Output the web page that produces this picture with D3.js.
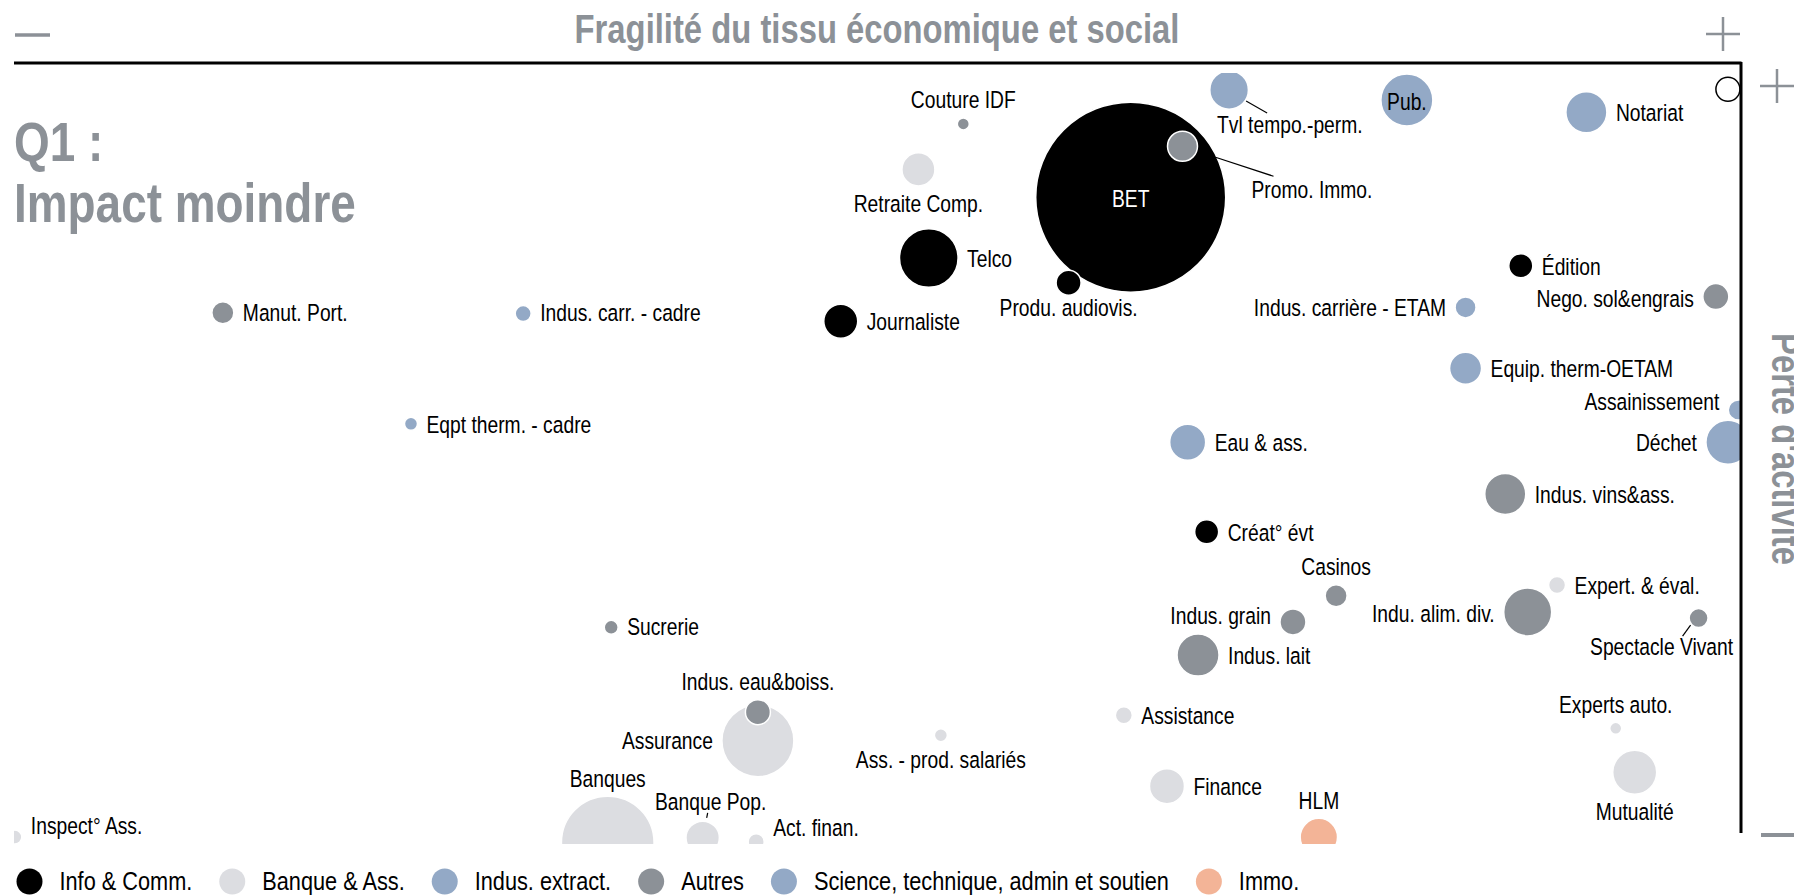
<!DOCTYPE html>
<html lang="fr">
<head>
<meta charset="UTF-8">
<title>Fragilité du tissu économique et social</title>
<script src="https://cdn.jsdelivr.net/npm/d3@7"></script>
<style>
    body { margin: 0; background: #fff; }
    svg { display: block; }
    text { font-family: "Liberation Sans", Arial, sans-serif; }
    .lbl { font-size: 23.5px; fill: #000; }
    .big { font-weight: bold; fill: #8c9197; }
    .leg { font-size: 26.5px; fill: #000; }
</style>
</head>
<body>
<svg width="1794" height="896"></svg>

<script>
    // categories (legend order)
    const categories = ["Info & Comm.", "Banque & Ass.", "Indus. extract.", "Autres",
                        "Science, technique, admin et soutien", "Immo."];

    // one entry per branche
    const sectors = ["Couture IDF", "Retraite Comp.", "BET", "Promo. Immo.", "Tvl tempo.-perm.",
        "Pub.", "Notariat", "Telco", "Produ. audiovis.", "Journaliste",
        "Manut. Port.", "Indus. carr. - cadre", "Eqpt therm. - cadre", "Édition", "Nego. sol&engrais",
        "Indus. carrière - ETAM", "Equip. therm-OETAM", "Assainissement", "Déchet", "Eau & ass.",
        "Indus. vins&ass.", "Créat° évt", "Casinos", "Indus. grain", "Indu. alim. div.",
        "Expert. & éval.", "Spectacle Vivant", "Indus. lait", "Sucrerie", "Indus. eau&boiss.",
        "Assurance", "Ass. - prod. salariés", "Assistance", "Experts auto.", "Mutualité",
        "Finance", "HLM", "Banques", "Banque Pop.", "Act. finan.",
        "Inspect° Ass."];
    const sectorCat = [3, 1, 0, 3, 4,
        4, 4, 0, 0, 0,
        3, 2, 2, 0, 3,
        2, 2, 2, 2, 2,
        3, 0, 3, 3, 3,
        1, 3, 3, 3, 3,
        1, 1, 1, 1, 1,
        1, 5, 1, 1, 1,
        1];
    // x : fragilité du tissu économique et social (0-100)
    const fragilite = [55.0, 52.4, 64.7, 67.7, 70.4,
        80.7, 91.1, 53.0, 61.1, 47.9,
        12.1, 29.5, 23.0, 87.3, 98.6,
        84.1, 84.1, 99.9, 99.3, 68.0,
        86.4, 69.1, 76.6, 74.1, 87.7,
        89.4, 97.6, 68.6, 34.6, 43.1,
        43.1, 53.7, 64.3, 92.8, 93.9,
        66.8, 75.6, 34.4, 39.9, 43.0,
        0.05];
    // y : perte d'activité (0-100)
    const perte = [93.4, 87.5, 83.9, 90.5, 97.8,
        96.5, 94.9, 76.0, 72.8, 67.8,
        68.9, 68.8, 54.5, 75.0, 71.0,
        69.6, 61.7, 56.3, 52.1, 52.1,
        45.4, 40.5, 32.2, 28.8, 30.1,
        33.6, 29.3, 24.5, 28.1, 17.1,
        13.4, 14.1, 16.7, 15.0, 9.3,
        7.5, 0.9, 0.2, 0.8, 0.3,
        0.9];
    // taille de la bulle (BET = 100)
    const poids = [0.40, 3.02, 100, 2.49, 4.13,
        7.49, 4.66, 9.51, 1.73, 3.20,
        1.34, 0.71, 0.47, 1.60, 1.87,
        1.22, 2.84, 1.11, 5.36, 3.59,
        4.66, 1.60, 1.34, 1.87, 6.38,
        0.80, 1.00, 4.89, 0.54, 1.73,
        14.36, 0.47, 0.80, 0.40, 5.36,
        3.39, 3.87, 23.75, 3.09, 0.71,
        0.54];
    // open reference point, top right corner
    const repere = {x: 99.3, y: 97.9, poids: 1.6};

    const catColors = ["#000000", "#dcdde1", "#93a9c6", "#8c9197", "#93a9c6", "#f3b497"];

    // label placement: side, extra dx, extra dy, optional leader line (relative to bubble centre)
    const place = {
        "Couture IDF": ["t"], "Retraite Comp.": ["b"], "BET": ["c"],
        "Promo. Immo.": ["x", 69, 50, [33, 11, 91, 30]],
        "Tvl tempo.-perm.": ["x", -12, 41, [17, 11, 38, 23]],
        "Pub.": ["c"], "Notariat": ["r"], "Telco": ["r"], "Produ. audiovis.": ["b", 0, -5],
        "Journaliste": ["r"], "Manut. Port.": ["r", 0, -1], "Indus. carr. - cadre": ["r", 0, -2],
        "Eqpt therm. - cadre": ["r"], "Édition": ["r"], "Nego. sol&engrais": ["l", 0, 1],
        "Indus. carrière - ETAM": ["l"], "Equip. therm-OETAM": ["r"], "Assainissement": ["l", 0, -9],
        "Déchet": ["l"], "Eau & ass.": ["r"], "Indus. vins&ass.": ["r"], "Créat° évt": ["r"],
        "Casinos": ["t"], "Indus. grain": ["l", 0, -7], "Indu. alim. div.": ["l", 0, 1],
        "Expert. & éval.": ["r"],
        "Spectacle Vivant": ["x", -37, 35, [-8, 7, -16, 18], "middle"],
        "Indus. lait": ["r"], "Sucrerie": ["r", 0, -1], "Indus. eau&boiss.": ["t"],
        "Assurance": ["l", 0, -1], "Ass. - prod. salariés": ["b"], "Assistance": ["r"],
        "Experts auto.": ["t"], "Mutualité": ["b"], "Finance": ["r"], "HLM": ["t"],
        "Banques": ["t"], "Banque Pop.": ["t", 8, -2, [5, -25, 4, -20]],
        "Act. finan.": ["r", 0, -15], "Inspect° Ass.": ["r", 0, -12]
    };

    const svg = d3.select("svg");
    const plot = {left: 14, right: 1740, top: 73, bottom: 844};
    const SX = 0.82;   // condensed look of the original font

    const x = d3.scaleLinear().domain([0, 100]).range([plot.left, plot.right]);
    const y = d3.scaleLinear().domain([0, 100]).range([plot.bottom, plot.top]);
    const r = d3.scaleSqrt().domain([0, 100]).range([0, 95]);

    const data = sectors.map((name, i) => ({
        name: name, cat: sectorCat[i], x: fragilite[i], y: perte[i], poids: poids[i]
    }));

    // text squeezed horizontally
    function narrow(parent, tx, ty, str, cls, extra) {
        return parent.append("text").attr("class", cls)
            .attr("transform", `translate(${tx},${ty}) ${extra || ""} scale(${SX},1)`)
            .text(str);
    }

    svg.append("clipPath").attr("id", "clip")
        .append("rect")
        .attr("x", plot.left).attr("y", plot.top)
        .attr("width", plot.right - plot.left).attr("height", plot.bottom - plot.top);

    // bubbles, biggest first so that the small ones stay on top
    svg.append("g").attr("clip-path", "url(#clip)")
        .selectAll("circle")
        .data(data.slice().sort((a, b) => b.poids - a.poids))
        .join("circle")
            .attr("cx", d => x(d.x))
            .attr("cy", d => y(d.y))
            .attr("r", d => r(d.poids))
            .style("fill", d => catColors[d.cat])
            .style("stroke", "#fff")
            .style("stroke-width", 1.5);

    svg.append("circle")
        .attr("cx", x(repere.x)).attr("cy", y(repere.y)).attr("r", r(repere.poids))
        .style("fill", "#fff").style("stroke", "#000").style("stroke-width", 1.5);

    // labels
    const labels = svg.append("g");
    data.forEach(d => {
        const p = place[d.name] || ["r"];
        const cx = x(d.x), cy = y(d.y), rr = r(d.poids);
        let tx = cx, ty = cy + 2, anchor = "middle";
        if (p[0] === "r") { tx = cx + rr + 9; ty += 7; anchor = "start"; }
        if (p[0] === "l") { tx = cx - rr - 9; ty += 7; anchor = "end"; }
        if (p[0] === "t") { ty -= rr + 11.5; }
        if (p[0] === "b") { ty += rr + 24; }
        if (p[0] === "c") { ty += 8; }
        if (p[0] === "x") { anchor = p[4] || "start"; }
        tx += p[1] || 0;
        ty += p[2] || 0;
        narrow(labels, tx, ty, d.name, "lbl")
            .attr("text-anchor", anchor)
            .style("fill", d.name === "BET" ? "#fff" : "#000");
        if (p[3]) {
            labels.append("line")
                .attr("x1", cx + p[3][0]).attr("y1", cy + p[3][1])
                .attr("x2", cx + p[3][2]).attr("y2", cy + p[3][3])
                .style("stroke", "#000").style("stroke-width", 1.2);
        }
    });

    // frame: top and right edges
    svg.append("line").attr("x1", plot.left).attr("x2", plot.right + 1.5)
        .attr("y1", 63).attr("y2", 63)
        .style("stroke", "#000").style("stroke-width", 3);
    svg.append("line").attr("x1", plot.right + 1).attr("x2", plot.right + 1)
        .attr("y1", 62).attr("y2", 833)
        .style("stroke", "#000").style("stroke-width", 3);

    // + / - markers at the axis ends
    const grey = "#8c9197";
    const hline = (x1, x2, yy, w) => svg.append("line").attr("x1", x1).attr("x2", x2)
        .attr("y1", yy).attr("y2", yy).style("stroke", grey).style("stroke-width", w);
    const plus = (cx, cy) => {
        hline(cx - 17, cx + 17, cy, 2.5);
        svg.append("line").attr("x1", cx).attr("x2", cx).attr("y1", cy - 17).attr("y2", cy + 17)
            .style("stroke", grey).style("stroke-width", 2.5);
    };
    hline(15, 50, 35, 3.5);
    plus(1723, 34);
    plus(1777, 86);
    hline(1761, 1794, 835, 4);

    // titles
    narrow(svg, 877, 43, "Fragilité du tissu économique et social", "big")
        .attr("text-anchor", "middle").style("font-size", "40px");
    narrow(svg, 14, 161, "Q1 :", "big").style("font-size", "56px");
    narrow(svg, 14, 222, "Impact moindre", "big").style("font-size", "56px");
    narrow(svg, 1772, 449, "Perte d'activité", "big", "rotate(90)")
        .attr("text-anchor", "middle").style("font-size", "40px");

    // legend
    const legend = svg.append("g");
    let lx = 29.5;
    categories.forEach((c, i) => {
        legend.append("circle").attr("cx", lx).attr("cy", 881.5).attr("r", 13)
            .style("fill", catColors[i]);
        const t = narrow(legend, lx + 30, 890, c, "leg");
        lx += 30 + t.node().getComputedTextLength() * SX + 40;
    });
</script>
</body>
</html>
